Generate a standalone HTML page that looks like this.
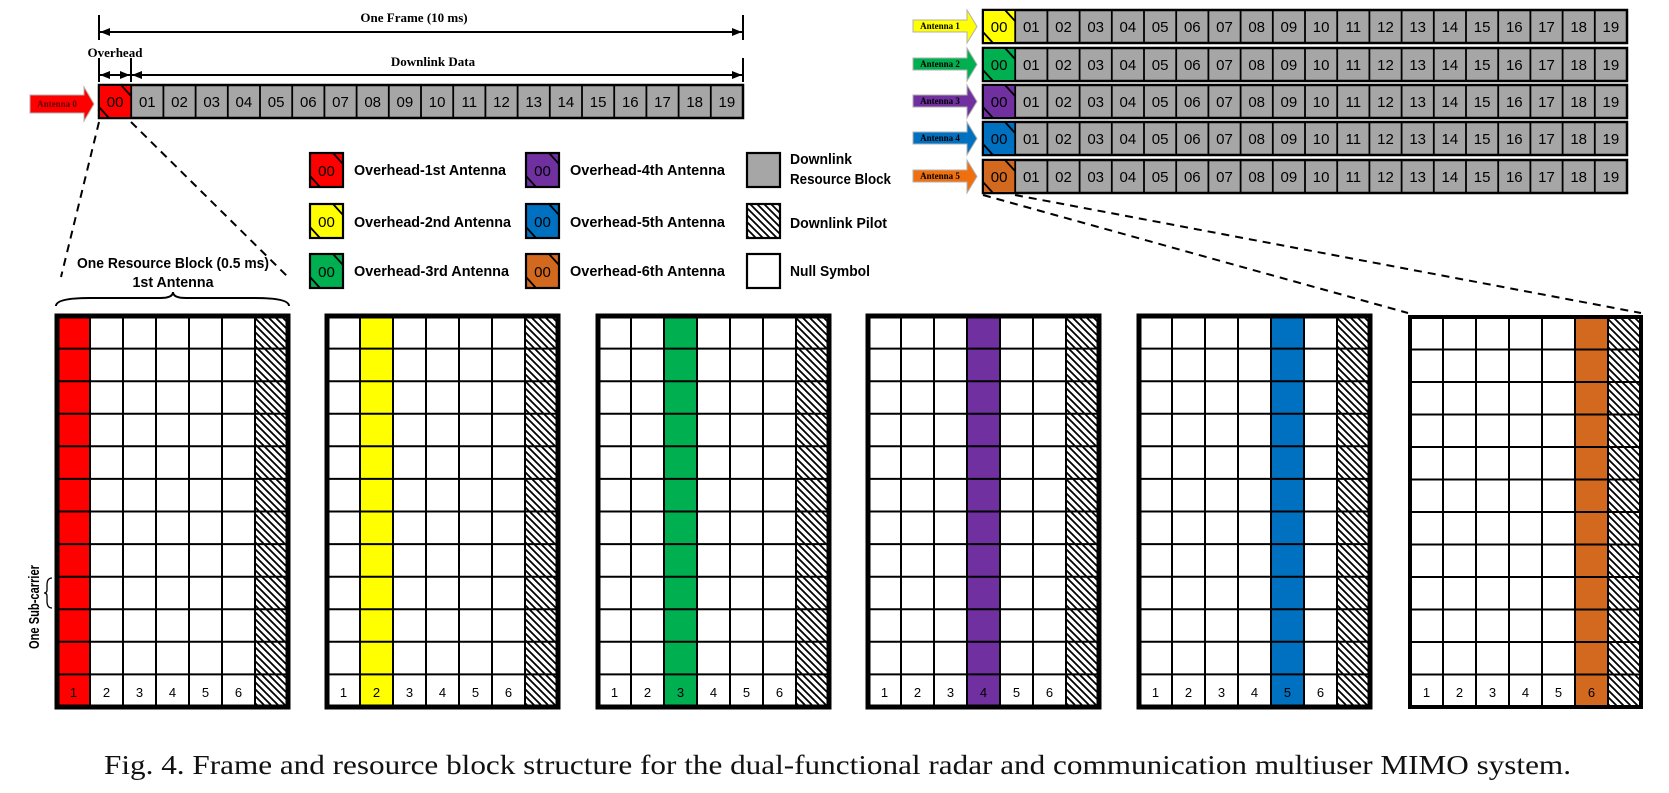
<!DOCTYPE html>
<html><head><meta charset="utf-8"><style>
html,body{margin:0;padding:0;background:#fff;}
svg{display:block;}
.n{font-family:"Liberation Sans",sans-serif;font-size:15px;text-anchor:middle;fill:#000;}
.t{font-family:"Liberation Serif",serif;font-weight:bold;font-size:13px;text-anchor:middle;}
.lg{font-family:"Liberation Sans",sans-serif;font-weight:bold;font-size:14.5px;}
.bn{font-family:"Liberation Sans",sans-serif;font-size:13px;text-anchor:middle;}
.ant{font-family:"Liberation Serif",serif;font-weight:bold;font-size:9px;text-anchor:middle;}
</style></head><body>
<svg width="1669" height="793" viewBox="0 0 1669 793" xmlns="http://www.w3.org/2000/svg">
<defs>
<pattern id="h" patternUnits="userSpaceOnUse" width="7" height="7">
<rect width="7" height="7" fill="#fff"/>
<path d="M0,0 L7,7 M-1,6 L1,8 M6,-1 L8,1" stroke="#000" stroke-width="1.8"/>
</pattern>
<marker id="ah" markerWidth="10" markerHeight="8" refX="10" refY="4" orient="auto" markerUnits="userSpaceOnUse">
<path d="M0,0 L10,4 L0,8 Z" fill="#000"/></marker>
<marker id="as" markerWidth="10" markerHeight="8" refX="0" refY="4" orient="auto" markerUnits="userSpaceOnUse">
<path d="M10,0 L0,4 L10,8 Z" fill="#000"/></marker>
</defs>

<g stroke="#000" stroke-width="2" fill="none">
<path d="M99,15V40 M743,15V40 M99,58V82 M131,58V82 M743,58V82"/>
<line x1="100" y1="32" x2="742" y2="32" marker-start="url(#as)" marker-end="url(#ah)"/>
<line x1="100" y1="75" x2="130" y2="75" marker-start="url(#as)" marker-end="url(#ah)"/>
<line x1="132" y1="75" x2="742" y2="75" marker-start="url(#as)" marker-end="url(#ah)"/>
</g>
<text class="t" x="414" y="22">One Frame (10 ms)</text>
<text class="t" x="115" y="57">Overhead</text>
<text class="t" x="433" y="66">Downlink Data</text>

<polygon points="30,95 84,95 84,87 94,104 84,121 84,113 30,113" fill="#ff0000" stroke="#b0b0b0" stroke-width="1"/>
<text class="ant" x="57" y="107" fill="#600">Antenna 0</text>

<g>
<rect x="99" y="85" width="644" height="33" fill="#a6a6a6" stroke="#000" stroke-width="2.5"/>
<rect x="100" y="86" width="31.2" height="31" fill="#ff0000"/>
<path d="M131.2 85v33 M163.4 85v33 M195.6 85v33 M227.8 85v33 M260 85v33 M292.2 85v33 M324.4 85v33 M356.6 85v33 M388.8 85v33 M421 85v33 M453.2 85v33 M485.4 85v33 M517.6 85v33 M549.8 85v33 M582 85v33 M614.2 85v33 M646.4 85v33 M678.6 85v33 M710.8 85v33 M121,85 L131,96 M99,107 L109,118" stroke="#000" stroke-width="1.8"/>
<text class="n" y="107"><tspan x="115.1">00</tspan><tspan x="147.3">01</tspan><tspan x="179.5">02</tspan><tspan x="211.7">03</tspan><tspan x="243.9">04</tspan><tspan x="276.1">05</tspan><tspan x="308.3">06</tspan><tspan x="340.5">07</tspan><tspan x="372.7">08</tspan><tspan x="404.9">09</tspan><tspan x="437.1">10</tspan><tspan x="469.3">11</tspan><tspan x="501.5">12</tspan><tspan x="533.7">13</tspan><tspan x="565.9">14</tspan><tspan x="598.1">15</tspan><tspan x="630.3">16</tspan><tspan x="662.5">17</tspan><tspan x="694.7">18</tspan><tspan x="726.9">19</tspan></text>
</g>

<g transform="translate(884,-75)">
<polygon points="29,95 83,95 83,85 93,101.5 83,118 83,107 29,107" fill="#ffff00" stroke="#b0b0b0" stroke-width="1"/>
<text class="ant" x="56" y="104">Antenna 1</text>
<rect x="99" y="85" width="644" height="33" fill="#a6a6a6" stroke="#000" stroke-width="2.5"/>
<rect x="100" y="86" width="31.2" height="31" fill="#ffff00"/>
<path d="M131.2 85v33 M163.4 85v33 M195.6 85v33 M227.8 85v33 M260 85v33 M292.2 85v33 M324.4 85v33 M356.6 85v33 M388.8 85v33 M421 85v33 M453.2 85v33 M485.4 85v33 M517.6 85v33 M549.8 85v33 M582 85v33 M614.2 85v33 M646.4 85v33 M678.6 85v33 M710.8 85v33 M121,85 L131,96 M99,107 L109,118" stroke="#000" stroke-width="1.8"/>
<text class="n" y="107"><tspan x="115.1">00</tspan><tspan x="147.3">01</tspan><tspan x="179.5">02</tspan><tspan x="211.7">03</tspan><tspan x="243.9">04</tspan><tspan x="276.1">05</tspan><tspan x="308.3">06</tspan><tspan x="340.5">07</tspan><tspan x="372.7">08</tspan><tspan x="404.9">09</tspan><tspan x="437.1">10</tspan><tspan x="469.3">11</tspan><tspan x="501.5">12</tspan><tspan x="533.7">13</tspan><tspan x="565.9">14</tspan><tspan x="598.1">15</tspan><tspan x="630.3">16</tspan><tspan x="662.5">17</tspan><tspan x="694.7">18</tspan><tspan x="726.9">19</tspan></text>
</g>
<g transform="translate(884,-37)">
<polygon points="29,95 83,95 83,85 93,101.5 83,118 83,107 29,107" fill="#00b050" stroke="#b0b0b0" stroke-width="1"/>
<text class="ant" x="56" y="104">Antenna 2</text>
<rect x="99" y="85" width="644" height="33" fill="#a6a6a6" stroke="#000" stroke-width="2.5"/>
<rect x="100" y="86" width="31.2" height="31" fill="#00b050"/>
<path d="M131.2 85v33 M163.4 85v33 M195.6 85v33 M227.8 85v33 M260 85v33 M292.2 85v33 M324.4 85v33 M356.6 85v33 M388.8 85v33 M421 85v33 M453.2 85v33 M485.4 85v33 M517.6 85v33 M549.8 85v33 M582 85v33 M614.2 85v33 M646.4 85v33 M678.6 85v33 M710.8 85v33 M121,85 L131,96 M99,107 L109,118" stroke="#000" stroke-width="1.8"/>
<text class="n" y="107"><tspan x="115.1">00</tspan><tspan x="147.3">01</tspan><tspan x="179.5">02</tspan><tspan x="211.7">03</tspan><tspan x="243.9">04</tspan><tspan x="276.1">05</tspan><tspan x="308.3">06</tspan><tspan x="340.5">07</tspan><tspan x="372.7">08</tspan><tspan x="404.9">09</tspan><tspan x="437.1">10</tspan><tspan x="469.3">11</tspan><tspan x="501.5">12</tspan><tspan x="533.7">13</tspan><tspan x="565.9">14</tspan><tspan x="598.1">15</tspan><tspan x="630.3">16</tspan><tspan x="662.5">17</tspan><tspan x="694.7">18</tspan><tspan x="726.9">19</tspan></text>
</g>
<g transform="translate(884,0)">
<polygon points="29,95 83,95 83,85 93,101.5 83,118 83,107 29,107" fill="#7030a0" stroke="#b0b0b0" stroke-width="1"/>
<text class="ant" x="56" y="104">Antenna 3</text>
<rect x="99" y="85" width="644" height="33" fill="#a6a6a6" stroke="#000" stroke-width="2.5"/>
<rect x="100" y="86" width="31.2" height="31" fill="#7030a0"/>
<path d="M131.2 85v33 M163.4 85v33 M195.6 85v33 M227.8 85v33 M260 85v33 M292.2 85v33 M324.4 85v33 M356.6 85v33 M388.8 85v33 M421 85v33 M453.2 85v33 M485.4 85v33 M517.6 85v33 M549.8 85v33 M582 85v33 M614.2 85v33 M646.4 85v33 M678.6 85v33 M710.8 85v33 M121,85 L131,96 M99,107 L109,118" stroke="#000" stroke-width="1.8"/>
<text class="n" y="107"><tspan x="115.1">00</tspan><tspan x="147.3">01</tspan><tspan x="179.5">02</tspan><tspan x="211.7">03</tspan><tspan x="243.9">04</tspan><tspan x="276.1">05</tspan><tspan x="308.3">06</tspan><tspan x="340.5">07</tspan><tspan x="372.7">08</tspan><tspan x="404.9">09</tspan><tspan x="437.1">10</tspan><tspan x="469.3">11</tspan><tspan x="501.5">12</tspan><tspan x="533.7">13</tspan><tspan x="565.9">14</tspan><tspan x="598.1">15</tspan><tspan x="630.3">16</tspan><tspan x="662.5">17</tspan><tspan x="694.7">18</tspan><tspan x="726.9">19</tspan></text>
</g>
<g transform="translate(884,37)">
<polygon points="29,95 83,95 83,85 93,101.5 83,118 83,107 29,107" fill="#0070c0" stroke="#b0b0b0" stroke-width="1"/>
<text class="ant" x="56" y="104">Antenna 4</text>
<rect x="99" y="85" width="644" height="33" fill="#a6a6a6" stroke="#000" stroke-width="2.5"/>
<rect x="100" y="86" width="31.2" height="31" fill="#0070c0"/>
<path d="M131.2 85v33 M163.4 85v33 M195.6 85v33 M227.8 85v33 M260 85v33 M292.2 85v33 M324.4 85v33 M356.6 85v33 M388.8 85v33 M421 85v33 M453.2 85v33 M485.4 85v33 M517.6 85v33 M549.8 85v33 M582 85v33 M614.2 85v33 M646.4 85v33 M678.6 85v33 M710.8 85v33 M121,85 L131,96 M99,107 L109,118" stroke="#000" stroke-width="1.8"/>
<text class="n" y="107"><tspan x="115.1">00</tspan><tspan x="147.3">01</tspan><tspan x="179.5">02</tspan><tspan x="211.7">03</tspan><tspan x="243.9">04</tspan><tspan x="276.1">05</tspan><tspan x="308.3">06</tspan><tspan x="340.5">07</tspan><tspan x="372.7">08</tspan><tspan x="404.9">09</tspan><tspan x="437.1">10</tspan><tspan x="469.3">11</tspan><tspan x="501.5">12</tspan><tspan x="533.7">13</tspan><tspan x="565.9">14</tspan><tspan x="598.1">15</tspan><tspan x="630.3">16</tspan><tspan x="662.5">17</tspan><tspan x="694.7">18</tspan><tspan x="726.9">19</tspan></text>
</g>
<g transform="translate(884,75)">
<polygon points="29,95 83,95 83,85 93,101.5 83,118 83,107 29,107" fill="#f07010" stroke="#b0b0b0" stroke-width="1"/>
<text class="ant" x="56" y="104">Antenna 5</text>
<rect x="99" y="85" width="644" height="33" fill="#a6a6a6" stroke="#000" stroke-width="2.5"/>
<rect x="100" y="86" width="31.2" height="31" fill="#d2691e"/>
<path d="M131.2 85v33 M163.4 85v33 M195.6 85v33 M227.8 85v33 M260 85v33 M292.2 85v33 M324.4 85v33 M356.6 85v33 M388.8 85v33 M421 85v33 M453.2 85v33 M485.4 85v33 M517.6 85v33 M549.8 85v33 M582 85v33 M614.2 85v33 M646.4 85v33 M678.6 85v33 M710.8 85v33 M121,85 L131,96 M99,107 L109,118" stroke="#000" stroke-width="1.8"/>
<text class="n" y="107"><tspan x="115.1">00</tspan><tspan x="147.3">01</tspan><tspan x="179.5">02</tspan><tspan x="211.7">03</tspan><tspan x="243.9">04</tspan><tspan x="276.1">05</tspan><tspan x="308.3">06</tspan><tspan x="340.5">07</tspan><tspan x="372.7">08</tspan><tspan x="404.9">09</tspan><tspan x="437.1">10</tspan><tspan x="469.3">11</tspan><tspan x="501.5">12</tspan><tspan x="533.7">13</tspan><tspan x="565.9">14</tspan><tspan x="598.1">15</tspan><tspan x="630.3">16</tspan><tspan x="662.5">17</tspan><tspan x="694.7">18</tspan><tspan x="726.9">19</tspan></text>
</g>

<g stroke="#000" stroke-width="2" stroke-dasharray="8,6" fill="none">
<line x1="99" y1="122" x2="61" y2="277"/>
<line x1="131" y1="122" x2="289" y2="278"/>
<line x1="983" y1="195" x2="1408" y2="313"/>
<line x1="1015" y1="195" x2="1641" y2="313"/>
</g>

<g stroke="#000" stroke-width="2.2">
<rect x="310" y="153" width="33" height="34" fill="#ff0000"/>
<rect x="310" y="204" width="33" height="34" fill="#ffff00"/>
<rect x="310" y="254" width="33" height="34" fill="#00b050"/>
<rect x="526" y="153" width="33" height="34" fill="#7030a0"/>
<rect x="526" y="204" width="33" height="34" fill="#0070c0"/>
<rect x="526" y="254" width="33" height="34" fill="#d2691e"/>
<rect x="747" y="153" width="33" height="34" fill="#a6a6a6"/>
<rect x="747" y="204" width="33" height="34" fill="url(#h)"/>
<rect x="747" y="254" width="33" height="34" fill="#fff"/>
</g>
<path d="M333,153 L343,164 M310,176 L320,187 M333,204 L343,215 M310,227 L320,238 M333,254 L343,265 M310,277 L320,288 M549,153 L559,164 M526,176 L536,187 M549,204 L559,215 M526,227 L536,238 M549,254 L559,265 M526,277 L536,288" stroke="#000" stroke-width="1.8"/>
<text class="n" y="176"><tspan x="326.5">00</tspan><tspan x="542.5">00</tspan></text>
<text class="n" y="227"><tspan x="326.5">00</tspan><tspan x="542.5">00</tspan></text>
<text class="n" y="277"><tspan x="326.5">00</tspan><tspan x="542.5">00</tspan></text>
<text class="lg" x="354" y="175" textLength="152" lengthAdjust="spacingAndGlyphs">Overhead-1st Antenna</text>
<text class="lg" x="354" y="227" textLength="157" lengthAdjust="spacingAndGlyphs">Overhead-2nd Antenna</text>
<text class="lg" x="354" y="276" textLength="155" lengthAdjust="spacingAndGlyphs">Overhead-3rd Antenna</text>
<text class="lg" x="570" y="175" textLength="155" lengthAdjust="spacingAndGlyphs">Overhead-4th Antenna</text>
<text class="lg" x="570" y="227" textLength="155" lengthAdjust="spacingAndGlyphs">Overhead-5th Antenna</text>
<text class="lg" x="570" y="276" textLength="155" lengthAdjust="spacingAndGlyphs">Overhead-6th Antenna</text>
<text class="lg" x="790" y="164" textLength="62" lengthAdjust="spacingAndGlyphs">Downlink</text>
<text class="lg" x="790" y="184" textLength="101" lengthAdjust="spacingAndGlyphs">Resource Block</text>
<text class="lg" x="790" y="228" textLength="97" lengthAdjust="spacingAndGlyphs">Downlink Pilot</text>
<text class="lg" x="790" y="276" textLength="80" lengthAdjust="spacingAndGlyphs">Null Symbol</text>

<text class="lg" x="173" y="268" text-anchor="middle" textLength="192" lengthAdjust="spacingAndGlyphs">One Resource Block (0.5 ms)</text>
<text class="lg" x="173" y="287" text-anchor="middle" textLength="81" lengthAdjust="spacingAndGlyphs">1st Antenna</text>
<path d="M56,306 Q56,298 90,298 L160,298 Q173,298 173,292 Q173,298 186,298 L255,298 Q289,298 289,306" stroke="#000" stroke-width="2" fill="none"/>

<text class="lg" transform="translate(39,607) rotate(-90)" text-anchor="middle" textLength="84" lengthAdjust="spacingAndGlyphs">One Sub-carrier</text>
<path d="M52,578 Q47,578 47,585 L47,590 Q47,593 44,593 Q47,593 47,596 L47,601 Q47,608 52,608" stroke="#000" stroke-width="1.3" fill="none"/>

<g transform="translate(57,316)">
<rect x="0" y="0" width="33" height="391" fill="#ff0000"/>
<rect x="198" y="0" width="33" height="391" fill="url(#h)"/>
<path d="M33 0v391 M66 0v391 M99 0v391 M132 0v391 M165 0v391 M198 0v391 M0 32.6h231 M0 65.2h231 M0 97.7h231 M0 130.3h231 M0 162.9h231 M0 195.5h231 M0 228.1h231 M0 260.7h231 M0 293.2h231 M0 325.8h231 M0 358.4h231" stroke="#000" stroke-width="2"/>
<rect x="0" y="0" width="231" height="391" fill="none" stroke="#000" stroke-width="5"/>
<text class="bn" y="381"><tspan x="16.5">1</tspan><tspan x="49.5">2</tspan><tspan x="82.5">3</tspan><tspan x="115.5">4</tspan><tspan x="148.5">5</tspan><tspan x="181.5">6</tspan></text>
</g>
<g transform="translate(327,316)">
<rect x="33" y="0" width="33" height="391" fill="#ffff00"/>
<rect x="198" y="0" width="33" height="391" fill="url(#h)"/>
<path d="M33 0v391 M66 0v391 M99 0v391 M132 0v391 M165 0v391 M198 0v391 M0 32.6h231 M0 65.2h231 M0 97.7h231 M0 130.3h231 M0 162.9h231 M0 195.5h231 M0 228.1h231 M0 260.7h231 M0 293.2h231 M0 325.8h231 M0 358.4h231" stroke="#000" stroke-width="2"/>
<rect x="0" y="0" width="231" height="391" fill="none" stroke="#000" stroke-width="5"/>
<text class="bn" y="381"><tspan x="16.5">1</tspan><tspan x="49.5">2</tspan><tspan x="82.5">3</tspan><tspan x="115.5">4</tspan><tspan x="148.5">5</tspan><tspan x="181.5">6</tspan></text>
</g>
<g transform="translate(598,316)">
<rect x="66" y="0" width="33" height="391" fill="#00b050"/>
<rect x="198" y="0" width="33" height="391" fill="url(#h)"/>
<path d="M33 0v391 M66 0v391 M99 0v391 M132 0v391 M165 0v391 M198 0v391 M0 32.6h231 M0 65.2h231 M0 97.7h231 M0 130.3h231 M0 162.9h231 M0 195.5h231 M0 228.1h231 M0 260.7h231 M0 293.2h231 M0 325.8h231 M0 358.4h231" stroke="#000" stroke-width="2"/>
<rect x="0" y="0" width="231" height="391" fill="none" stroke="#000" stroke-width="5"/>
<text class="bn" y="381"><tspan x="16.5">1</tspan><tspan x="49.5">2</tspan><tspan x="82.5">3</tspan><tspan x="115.5">4</tspan><tspan x="148.5">5</tspan><tspan x="181.5">6</tspan></text>
</g>
<g transform="translate(868,316)">
<rect x="99" y="0" width="33" height="391" fill="#7030a0"/>
<rect x="198" y="0" width="33" height="391" fill="url(#h)"/>
<path d="M33 0v391 M66 0v391 M99 0v391 M132 0v391 M165 0v391 M198 0v391 M0 32.6h231 M0 65.2h231 M0 97.7h231 M0 130.3h231 M0 162.9h231 M0 195.5h231 M0 228.1h231 M0 260.7h231 M0 293.2h231 M0 325.8h231 M0 358.4h231" stroke="#000" stroke-width="2"/>
<rect x="0" y="0" width="231" height="391" fill="none" stroke="#000" stroke-width="5"/>
<text class="bn" y="381"><tspan x="16.5">1</tspan><tspan x="49.5">2</tspan><tspan x="82.5">3</tspan><tspan x="115.5">4</tspan><tspan x="148.5">5</tspan><tspan x="181.5">6</tspan></text>
</g>
<g transform="translate(1139,316)">
<rect x="132" y="0" width="33" height="391" fill="#0070c0"/>
<rect x="198" y="0" width="33" height="391" fill="url(#h)"/>
<path d="M33 0v391 M66 0v391 M99 0v391 M132 0v391 M165 0v391 M198 0v391 M0 32.6h231 M0 65.2h231 M0 97.7h231 M0 130.3h231 M0 162.9h231 M0 195.5h231 M0 228.1h231 M0 260.7h231 M0 293.2h231 M0 325.8h231 M0 358.4h231" stroke="#000" stroke-width="2"/>
<rect x="0" y="0" width="231" height="391" fill="none" stroke="#000" stroke-width="5"/>
<text class="bn" y="381"><tspan x="16.5">1</tspan><tspan x="49.5">2</tspan><tspan x="82.5">3</tspan><tspan x="115.5">4</tspan><tspan x="148.5">5</tspan><tspan x="181.5">6</tspan></text>
</g>
<g transform="translate(1410,317)">
<rect x="165" y="0" width="33" height="390" fill="#d2691e"/>
<rect x="198" y="0" width="33" height="390" fill="url(#h)"/>
<path d="M33 0v390 M66 0v390 M99 0v390 M132 0v390 M165 0v390 M198 0v390 M0 32.5h231 M0 65h231 M0 97.5h231 M0 130h231 M0 162.5h231 M0 195h231 M0 227.5h231 M0 260h231 M0 292.5h231 M0 325h231 M0 357.5h231" stroke="#000" stroke-width="2"/>
<rect x="0" y="0" width="231" height="390" fill="none" stroke="#000" stroke-width="4"/>
<text class="bn" y="380"><tspan x="16.5">1</tspan><tspan x="49.5">2</tspan><tspan x="82.5">3</tspan><tspan x="115.5">4</tspan><tspan x="148.5">5</tspan><tspan x="181.5">6</tspan></text>
</g>

<text x="104" y="774" font-family="Liberation Serif, serif" font-size="27" fill="#111" textLength="1467" lengthAdjust="spacingAndGlyphs">Fig. 4. Frame and resource block structure for the dual-functional radar and communication multiuser MIMO system.</text>
</svg>
</body></html>
